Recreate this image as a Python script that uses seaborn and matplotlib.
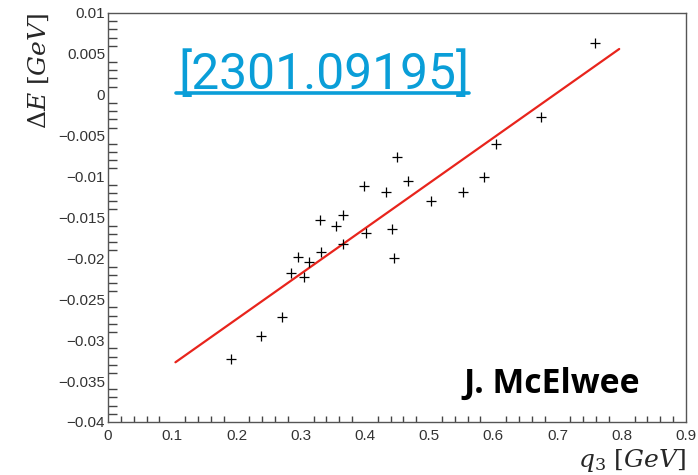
import numpy as np
import pandas as pd
import matplotlib
matplotlib.use('Agg')
import matplotlib.pyplot as plt
import seaborn as sns
from matplotlib.ticker import MultipleLocator, FuncFormatter
from matplotlib.lines import Line2D

# Data (q3 in GeV, delta E in GeV)
q3 = [0.1915, 0.238, 0.271, 0.285, 0.305, 0.296, 0.313, 0.332, 0.330, 0.355,
      0.366, 0.366, 0.399, 0.402, 0.433, 0.442, 0.445, 0.450, 0.467, 0.503,
      0.553, 0.585, 0.604, 0.674, 0.758]
delta_e = [-0.03227, -0.02946, -0.02714, -0.02176, -0.02225, -0.0198, -0.0204,
           -0.01919, -0.01528, -0.01601, -0.01467, -0.01822, -0.01112, -0.01687,
           -0.01186, -0.01638, -0.01993, -0.00758, -0.01051, -0.01296, -0.01186,
           -0.01002, -0.00599, -0.00269, 0.00636]

# Linear fit drawn in red (end points)
fit_x = [0.105, 0.796]
fit_y = [-0.0327, 0.0056]

df = pd.DataFrame({'q3': q3, 'dE': delta_e})
fit = pd.DataFrame({'q3': fit_x, 'dE': fit_y})

sns.set_theme(style='white')
plt.rcParams['font.family'] = ['Liberation Sans', 'DejaVu Sans']
plt.rcParams['mathtext.fontset'] = 'dejavuserif'

fig = plt.figure(figsize=(6.98, 4.75), dpi=100)
ax = fig.add_axes([108 / 698, 1 - 422 / 475, 578 / 698, 409 / 475])

sns.lineplot(data=fit, x='q3', y='dE', ax=ax, color='#e8241c', linewidth=1.6)
sns.scatterplot(data=df, x='q3', y='dE', ax=ax, marker='+', color='black',
                s=45, linewidth=0.9, zorder=3)

ax.set_xlim(0, 0.9)
ax.set_ylim(-0.04, 0.01)
ax.xaxis.set_major_locator(MultipleLocator(0.1))
ax.xaxis.set_minor_locator(MultipleLocator(0.02))
ax.yaxis.set_major_locator(MultipleLocator(0.005))
ax.yaxis.set_minor_locator(MultipleLocator(0.001))
fmt = FuncFormatter(lambda v, p: f'{round(v, 6):g}'.replace('-', '\u2212'))
ax.xaxis.set_major_formatter(fmt)
ax.yaxis.set_major_formatter(fmt)

ax.tick_params(which='both', direction='in', top=False, right=False,
               color='#444444', labelcolor='#333333', labelsize=11)
ax.tick_params(axis='y', which='major', length=12.5, width=1, pad=2)
ax.tick_params(axis='y', which='minor', length=6.5, width=1, left=True)
ax.tick_params(axis='x', which='major', length=8.5, width=1, pad=5)
ax.tick_params(axis='x', which='minor', length=4.3, width=1, bottom=True)

for side in ['left', 'bottom', 'top', 'right']:
    ax.spines[side].set_color('#555555')
    ax.spines[side].set_linewidth(1)

ax.set_xlabel(r'$q_3\ [GeV]$', fontsize=18, loc='right', labelpad=3)
ax.set_ylabel(r'$\Delta E\ [GeV]$', fontsize=18, loc='top', labelpad=5)

# Annotations
ref = fig.text(178 / 698, 1 - 89 / 475, '[2301.09195]', color='#0a9ed8',
               fontsize=35.8, family=['Roboto', 'DejaVu Sans'], va='baseline')
fig.text(463 / 698, 1 - 393 / 475, 'J. McElwee', color='black', fontsize=24.3,
         family=['Open Sans', 'DejaVu Sans'], fontweight='bold', va='baseline')

# Underline for the reference tag
fig.canvas.draw()
bb = ref.get_window_extent().transformed(fig.transFigure.inverted())
uy = 1 - 93 / 475
fig.add_artist(Line2D([bb.x0 - 0.003, bb.x1], [uy, uy], color='#0a9ed8',
                      linewidth=2.6, transform=fig.transFigure))

fig.savefig('out.png', dpi=100)
